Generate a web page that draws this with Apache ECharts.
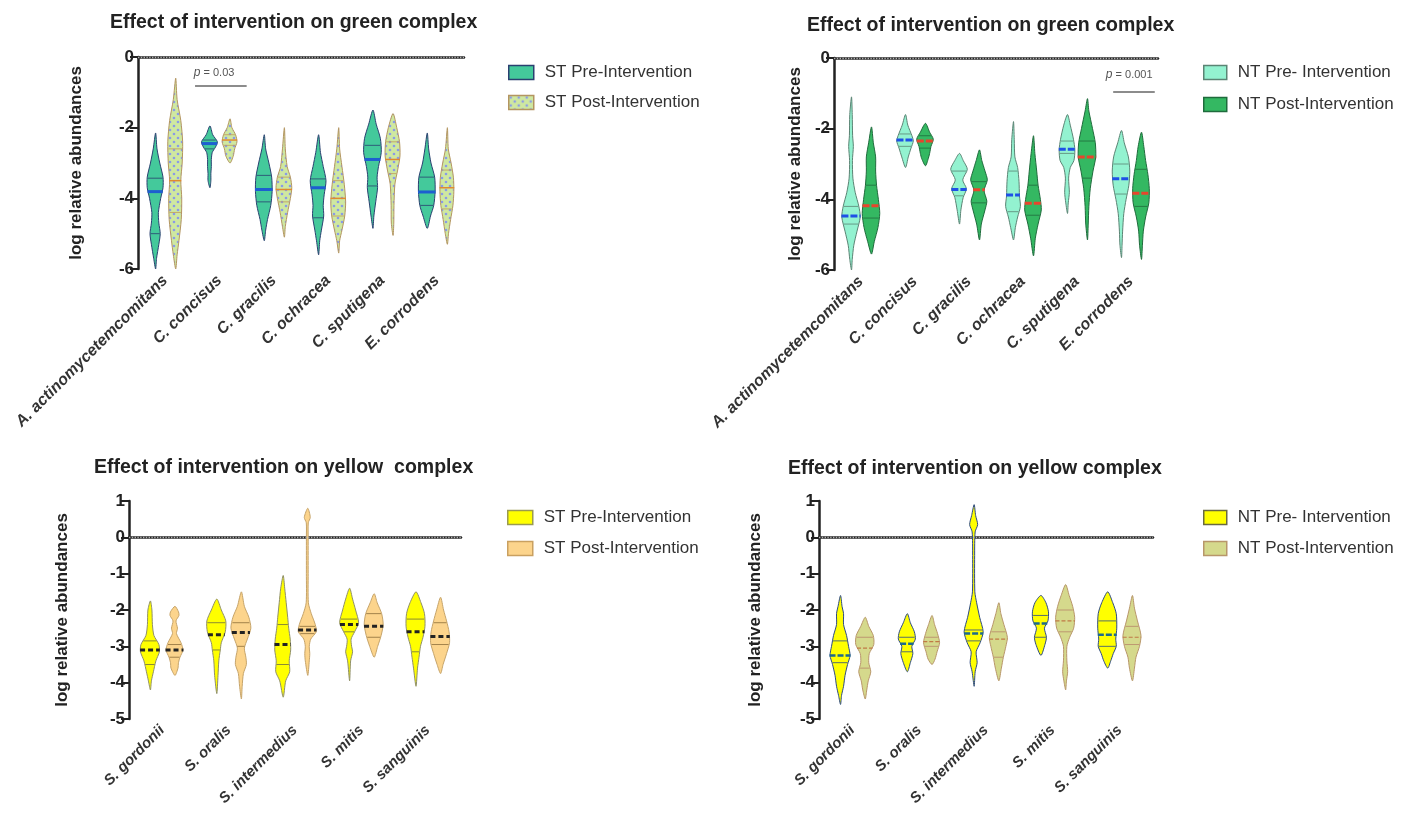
<!DOCTYPE html>
<html>
<head>
<meta charset="utf-8">
<script src="https://cdn.jsdelivr.net/npm/echarts@6/dist/echarts.min.js"></script>
<style>html,body{margin:0;padding:0;background:#fff}#c{width:1410px;height:826px}</style>
</head>
<body>
<div id="c"></div>
<script>
// ---------------- DATA ----------------
const greenCategories = ['A. actinomycetemcomitans','C. concisus','C. gracilis','C. ochracea','C. sputigena','E. corrodens'];
const yellowCategories = ['S. gordonii','S. oralis','S. intermedius','S. mitis','S. sanguinis'];

const greenTitle = 'Effect of intervention on green complex';
const yellowTitleST = 'Effect of intervention on yellow  complex';
const yellowTitleNT = 'Effect of intervention on yellow complex';
const yName = 'log relative abundances';

const stSeriesNames = ['ST Pre-Intervention','ST Post-Intervention'];
const ntSeriesNames = ['NT Pre- Intervention','NT Post-Intervention'];

// stats per violin: [median, q1, q3]
const stGreenPreStats  = [[-3.81,-5.0,-3.43],[-2.45,-2.6,-2.35],[-3.75,-4.1,-3.35],[-3.7,-4.55,-3.45],[-2.9,-3.65,-2.5],[-3.82,-4.2,-3.4]];
const stGreenPostStats = [[-3.5,-4.4,-2.6],[-2.35,-2.5,-2.2],[-3.75,-4.1,-3.4],[-4.0,-4.5,-3.5],[-2.9,-3.3,-2.4],[-3.7,-4.3,-3.2]];
const ntGreenPreStats  = [[-4.47,-4.7,-4.2],[-2.32,-2.5,-2.15],[-3.72,-3.9,-3.2],[-3.88,-4.35,-3.2],[-2.58,-2.7,-2.35],[-3.42,-3.85,-3.0]];
const ntGreenPostStats = [[-4.18,-4.53,-3.6],[-2.35,-2.55,-2.2],[-3.73,-4.1,-3.5],[-4.11,-4.45,-3.6],[-2.8,-3.4,-2.35],[-3.83,-4.2,-3.15]];
const stYellowPreStats  = [[-3.1,-3.5,-2.85],[-2.68,-3.1,-2.35],[-2.95,-3.5,-2.4],[-2.4,-2.6,-2.25],[-2.6,-3.15,-2.25]];
const stYellowPostStats = [[-3.1,-3.3,-2.95],[-2.62,-3.0,-2.35],[-2.55,-2.65,-2.45],[-2.45,-2.75,-2.1],[-2.73,-2.95,-2.35]];
const ntYellowPreStats  = [[-3.25,-3.45,-2.85],[-2.93,-3.15,-2.75],[-2.65,-2.85,-2.55],[-2.37,-2.75,-2.15],[-2.68,-3.0,-2.3]];
const ntYellowPostStats = [[-3.05,-3.6,-2.75],[-2.87,-3.0,-2.75],[-2.8,-3.3,-2.6],[-2.3,-2.6,-2.0],[-2.75,-2.95,-2.45]];

// density profiles per violin: [value, relative density]
const stGreenPreShape = [
 [[-2.15,0],[-2.6,0.15],[-3.0,0.45],[-3.4,0.8],[-3.7,0.8],[-4.0,0.55],[-4.4,0.3],[-4.7,0.35],[-5.0,0.5],[-5.3,0.35],[-5.7,0.1],[-6.0,0]],
 [[-1.95,0],[-2.2,0.3],[-2.4,0.8],[-2.55,0.6],[-2.7,0.25],[-2.9,0.15],[-3.1,0.15],[-3.3,0.1],[-3.5,0.1],[-3.7,0]],
 [[-2.2,0],[-2.6,0.15],[-3.0,0.5],[-3.4,0.8],[-3.8,0.85],[-4.2,0.7],[-4.6,0.35],[-4.9,0.15],[-5.2,0]],
 [[-2.2,0],[-2.7,0.2],[-3.1,0.5],[-3.5,0.8],[-3.9,0.6],[-4.2,0.5],[-4.5,0.55],[-4.9,0.3],[-5.2,0.12],[-5.6,0]],
 [[-1.5,0],[-1.9,0.35],[-2.3,0.8],[-2.7,0.9],[-3.1,0.6],[-3.4,0.45],[-3.7,0.5],[-4.1,0.3],[-4.5,0.1],[-4.85,0]],
 [[-2.15,0],[-2.6,0.15],[-3.0,0.4],[-3.4,0.8],[-3.8,0.85],[-4.2,0.7],[-4.5,0.35],[-4.85,0]]
];
const stGreenPostShape = [
 [[-0.6,0],[-1.2,0.15],[-1.8,0.55],[-2.4,0.75],[-3.0,0.7],[-3.5,0.55],[-4.0,0.65],[-4.6,0.6],[-5.2,0.35],[-5.6,0.15],[-6.0,0]],
 [[-1.75,0],[-2.0,0.2],[-2.2,0.6],[-2.4,0.75],[-2.6,0.5],[-2.8,0.35],[-3.0,0]],
 [[-2.0,0],[-2.6,0.1],[-3.1,0.3],[-3.4,0.65],[-3.7,0.8],[-4.0,0.65],[-4.4,0.35],[-4.8,0.1],[-5.1,0]],
 [[-2.0,0],[-2.6,0.1],[-3.1,0.35],[-3.6,0.6],[-4.1,0.75],[-4.5,0.65],[-4.9,0.35],[-5.2,0.1],[-5.55,0]],
 [[-1.6,0],[-2.0,0.4],[-2.4,0.7],[-2.8,0.75],[-3.2,0.5],[-3.6,0.2],[-4.2,0.1],[-4.7,0.08],[-5.05,0]],
 [[-2.0,0],[-2.6,0.1],[-3.0,0.4],[-3.4,0.65],[-3.8,0.7],[-4.2,0.6],[-4.6,0.35],[-5.0,0.12],[-5.3,0]]
];
const ntGreenPreShape = [
 [[-1.1,0],[-1.6,0.08],[-2.2,0.12],[-2.5,0.2],[-2.9,0.1],[-3.4,0.15],[-3.8,0.4],[-4.2,0.8],[-4.5,0.95],[-4.9,0.6],[-5.3,0.25],[-5.7,0.08],[-6.0,0]],
 [[-1.6,0],[-1.9,0.25],[-2.2,0.7],[-2.35,0.85],[-2.55,0.6],[-2.8,0.3],[-3.1,0]],
 [[-2.7,0],[-2.9,0.4],[-3.15,0.85],[-3.45,0.35],[-3.7,0.75],[-3.95,0.4],[-4.3,0.15],[-4.7,0]],
 [[-1.8,0],[-2.3,0.08],[-2.8,0.15],[-3.1,0.45],[-3.5,0.6],[-3.9,0.65],[-4.2,0.75],[-4.5,0.45],[-4.8,0.2],[-5.15,0]],
 [[-1.6,0],[-1.9,0.3],[-2.3,0.65],[-2.6,0.8],[-2.9,0.7],[-3.1,0.3],[-3.4,0.12],[-3.8,0.2],[-4.1,0.08],[-4.4,0]],
 [[-2.05,0],[-2.4,0.3],[-2.8,0.75],[-3.2,0.9],[-3.6,0.8],[-4.0,0.5],[-4.4,0.25],[-4.9,0.12],[-5.3,0.06],[-5.65,0]]
];
const ntGreenPostShape = [
 [[-1.95,0],[-2.4,0.2],[-2.8,0.45],[-3.2,0.45],[-3.6,0.55],[-4.0,0.75],[-4.4,0.9],[-4.8,0.7],[-5.2,0.3],[-5.55,0]],
 [[-1.85,0],[-2.1,0.45],[-2.3,0.85],[-2.5,0.6],[-2.7,0.45],[-2.85,0.3],[-3.05,0]],
 [[-2.6,0],[-2.9,0.25],[-3.2,0.6],[-3.45,0.85],[-3.75,0.5],[-4.05,0.8],[-4.3,0.6],[-4.7,0.2],[-5.15,0]],
 [[-2.2,0],[-2.7,0.15],[-3.2,0.35],[-3.6,0.5],[-4.0,0.75],[-4.3,0.85],[-4.7,0.5],[-5.1,0.2],[-5.6,0]],
 [[-1.15,0],[-1.5,0.15],[-2.0,0.55],[-2.4,0.85],[-2.8,0.9],[-3.2,0.6],[-3.7,0.3],[-4.2,0.15],[-4.7,0.08],[-5.15,0]],
 [[-2.1,0],[-2.5,0.25],[-2.9,0.45],[-3.3,0.7],[-3.7,0.85],[-4.1,0.8],[-4.5,0.45],[-4.9,0.2],[-5.3,0.1],[-5.7,0]]
];
const stYellowPreShape = [
 [[-1.75,0],[-2.0,0.15],[-2.4,0.2],[-2.7,0.35],[-2.95,0.85],[-3.15,0.9],[-3.4,0.55],[-3.7,0.3],[-3.95,0.1],[-4.2,0]],
 [[-1.7,0],[-2.0,0.45],[-2.3,0.9],[-2.6,0.85],[-2.9,0.45],[-3.1,0.35],[-3.4,0.2],[-3.8,0.12],[-4.3,0]],
 [[-1.05,0],[-1.4,0.15],[-1.8,0.3],[-2.2,0.45],[-2.5,0.55],[-2.8,0.7],[-3.1,0.75],[-3.4,0.6],[-3.7,0.65],[-3.95,0.25],[-4.4,0]],
 [[-1.4,0],[-1.7,0.3],[-2.0,0.6],[-2.35,0.9],[-2.6,0.5],[-2.8,0.15],[-3.0,0.2],[-3.15,0.3],[-3.4,0.1],[-3.95,0]],
 [[-1.5,0],[-1.8,0.5],[-2.1,0.85],[-2.45,0.9],[-2.75,0.7],[-3.0,0.45],[-3.3,0.3],[-3.6,0.15],[-4.1,0]]
];
const stYellowPostShape = [
 [[-1.9,0],[-2.05,0.35],[-2.15,0.4],[-2.3,0.1],[-2.5,0.25],[-2.65,0.15],[-2.9,0.6],[-3.1,0.8],[-3.3,0.5],[-3.45,0.35],[-3.6,0.3],[-3.8,0]],
 [[-1.5,0],[-1.9,0.3],[-2.2,0.75],[-2.5,0.95],[-2.8,0.6],[-3.05,0.3],[-3.3,0.45],[-3.5,0.5],[-3.75,0.2],[-4.1,0.08],[-4.45,0]],
 [[0.8,0],[0.55,0.25],[0.4,0.05],[0.0,0.04],[-1.0,0.04],[-1.8,0.06],[-2.1,0.35],[-2.4,0.75],[-2.6,0.85],[-2.8,0.3],[-3.0,0.15],[-3.2,0.2],[-3.4,0.15],[-3.8,0]],
 [[-1.55,0],[-1.8,0.3],[-2.1,0.75],[-2.4,0.9],[-2.7,0.7],[-3.0,0.35],[-3.3,0]],
 [[-1.65,0],[-2.0,0.3],[-2.3,0.6],[-2.6,0.85],[-2.9,0.9],[-3.2,0.6],[-3.5,0.25],[-3.75,0]]
];
const ntYellowPreShape = [
 [[-1.6,0],[-1.9,0.15],[-2.1,0.3],[-2.4,0.3],[-2.7,0.6],[-3.0,0.8],[-3.25,0.95],[-3.5,0.7],[-3.8,0.45],[-4.1,0.3],[-4.35,0.1],[-4.6,0]],
 [[-2.1,0],[-2.35,0.3],[-2.6,0.7],[-2.8,0.8],[-3.0,0.45],[-3.2,0.55],[-3.45,0.3],[-3.7,0]],
 [[0.9,0],[0.6,0.15],[0.35,0.35],[0.15,0.1],[-0.5,0.05],[-1.5,0.07],[-1.8,0.25],[-2.2,0.55],[-2.6,0.9],[-2.9,0.6],[-3.15,0.2],[-3.45,0.3],[-3.7,0.1],[-4.1,0]],
 [[-1.6,0],[-1.8,0.5],[-2.05,0.75],[-2.3,0.7],[-2.5,0.35],[-2.75,0.55],[-2.95,0.4],[-3.25,0]],
 [[-1.5,0],[-1.8,0.5],[-2.1,0.85],[-2.5,0.9],[-2.8,0.8],[-3.0,0.85],[-3.2,0.55],[-3.4,0.3],[-3.6,0]]
];
const ntYellowPostShape = [
 [[-2.2,0],[-2.45,0.35],[-2.7,0.8],[-2.95,0.85],[-3.2,0.4],[-3.45,0.35],[-3.7,0.55],[-3.95,0.3],[-4.2,0.15],[-4.45,0]],
 [[-2.15,0],[-2.4,0.25],[-2.65,0.55],[-2.9,0.75],[-3.15,0.5],[-3.35,0.3],[-3.5,0]],
 [[-1.8,0],[-2.1,0.2],[-2.4,0.5],[-2.75,0.85],[-3.0,0.7],[-3.3,0.45],[-3.6,0.25],[-3.95,0]],
 [[-1.3,0],[-1.6,0.35],[-1.9,0.7],[-2.2,0.9],[-2.5,0.8],[-2.75,0.4],[-3.0,0.12],[-3.4,0.12],[-3.7,0.2],[-3.95,0.08],[-4.2,0]],
 [[-1.6,0],[-1.95,0.2],[-2.3,0.5],[-2.7,0.85],[-3.0,0.7],[-3.3,0.35],[-3.6,0.2],[-3.95,0]]
];

// significance annotations: [p value text, category index, bar value]
const stGreenPValue = ['0.03', 1, -0.82];
const ntGreenPValue = ['0.001', 5, -0.96];

// ---------------- RENDERING ----------------
const FONT = '"Liberation Sans", Arial, Helvetica, sans-serif';
const OFFSET = 0.185;

function dotPattern(bg, dot) {
  const c = document.createElement('canvas');
  c.width = 8; c.height = 8;
  const g = c.getContext('2d');
  g.fillStyle = bg; g.fillRect(0, 0, 8, 8);
  g.fillStyle = dot;
  [[2,2],[6,6]].forEach(([x,y]) => { g.beginPath(); g.arc(x, y, 1.3, 0, Math.PI*2); g.fill(); });
  return {image: c, repeat: 'repeat'};
}

function interpW(shape, v) {
  for (let j = 0; j < shape.length - 1; j++) {
    const [v1, w1] = shape[j], [v2, w2] = shape[j+1];
    if (v <= v1 && v >= v2) { const t = (v1 - v) / ((v1 - v2) || 1); return w1 + (w2 - w1) * t; }
  }
  return 0;
}

function violin(name, gi, stats, shapes, side, sty, extra) {
  const s = {
    type: 'custom', name: name, xAxisIndex: gi, yAxisIndex: gi,
    itemStyle: {color: sty.fill, borderColor: sty.edge, borderWidth: 1},
    data: stats.map((st, i) => [i, st[0], st[1], st[2]]),
    encode: {x: 0, y: 1},
    renderItem: function (params, api) {
      const shape = shapes[params.dataIndex];
      const cat = api.value(0);
      const band = api.size([1, 0])[0];
      const cx = api.coord([cat, 0])[0] + side * OFFSET * band;
      const k = sty.scale * band;
      const Y = v => api.coord([cat, v])[1];
      const pts = [];
      shape.forEach(([v, w]) => pts.push([cx + w * k + 0.5, Y(v)]));
      for (let j = shape.length - 1; j >= 0; j--) {
        if (shape[j][1] === 0) continue;
        pts.push([cx - shape[j][1] * k - 0.5, Y(shape[j][0])]);
      }
      const children = [{type: 'polygon', shape: {points: pts, smooth: 0.25},
        style: {fill: sty.fill, stroke: sty.edge, lineWidth: 1}}];
      [api.value(2), api.value(3)].forEach(q => {
        const w = interpW(shape, q) * k;
        children.push({type: 'line', shape: {x1: cx - w, y1: Y(q), x2: cx + w, y2: Y(q)},
          style: {stroke: sty.qColor, lineWidth: 0.8}});
      });
      const med = api.value(1);
      const mw = Math.max(interpW(shape, med), 0.5) * k + 1;
      children.push({type: 'line', shape: {x1: cx - mw, y1: Y(med), x2: cx + mw, y2: Y(med)},
        style: {stroke: sty.medColor, lineWidth: sty.medWidth, lineDash: sty.medDash || null}});
      return {type: 'group', children: children};
    }
  };
  if (extra) Object.assign(s, extra);
  return s;
}

function zeroLine() {
  return {markLine: {silent: true, symbol: 'none', label: {show: false},
    lineStyle: {type: 'dotted', color: '#b0b0b0', width: 1.4}, data: [{yAxis: 0}]}};
}

function pAnnot(gi, ann, x0, x1, textAlign, textDx, textDv) {
  return {
    type: 'custom', xAxisIndex: gi, yAxisIndex: gi, silent: true,
    data: [[ann[1], ann[2]]],
    renderItem: function (params, api) {
      const band = api.size([1, 0])[0];
      const p = api.coord([api.value(0), api.value(1)]);
      const pt = api.coord([api.value(0), api.value(1) + textDv]);
      return {type: 'group', children: [
        {type: 'line', shape: {x1: p[0] + x0 * band, y1: p[1], x2: p[0] + x1 * band, y2: p[1]},
          style: {stroke: '#666', lineWidth: 1.5}},
        {type: 'text', x: p[0] + textDx * band, y: pt[1],
          style: {text: '{i|p} = ' + ann[0], fill: '#555', font: '11px ' + FONT, textAlign: textAlign, textVerticalAlign: 'middle',
            rich: {i: {fontStyle: 'italic', fontSize: 12, fill: '#555', fontFamily: FONT}}}}
      ]};
    }
  };
}

const stPostPattern = dotPattern('#cfe8a0', '#8a9be6');

const styles = {
  stGreenPre:  {fill: '#44c99b', edge: '#2a4070', qColor: '#2a4070', medColor: '#1d5fd0', medWidth: 3, scale: 0.17},
  stGreenPost: {fill: stPostPattern, edge: '#b49560', qColor: '#c09a5a', medColor: '#e08a30', medWidth: 1.5, scale: 0.17},
  ntGreenPre:  {fill: '#93f2d0', edge: '#5b8474', qColor: '#5b8474', medColor: '#1e50e6', medWidth: 3, medDash: [7, 2], scale: 0.17},
  ntGreenPost: {fill: '#34b862', edge: '#1f6b3c', qColor: '#1f6b3c', medColor: '#e8452c', medWidth: 3, medDash: [7, 2], scale: 0.17},
  stYellowPre: {fill: '#ffff00', edge: '#8f8f6a', qColor: '#6d6d40', medColor: '#222', medWidth: 3, medDash: [5, 3], scale: 0.15},
  stYellowPost:{fill: '#fcd48c', edge: '#c6a46a', qColor: '#8c6d3a', medColor: '#222', medWidth: 3, medDash: [5, 3], scale: 0.15},
  ntYellowPre: {fill: '#ffff00', edge: '#2d4a85', qColor: '#2d4a85', medColor: '#1e6a8a', medWidth: 2.5, medDash: [6, 2], scale: 0.15},
  ntYellowPost:{fill: '#d5d98c', edge: '#b8966a', qColor: '#b8866a', medColor: '#c07a45', medWidth: 1.2, medDash: [4, 2], scale: 0.15}
};

const grids = [
  {left: 138, top: 57, width: 326, height: 212},
  {left: 834, top: 58, width: 324, height: 212},
  {left: 129, top: 501, width: 332, height: 218},
  {left: 819, top: 501, width: 334, height: 218}
];

function xAxis(gi, cats, fs) {
  return {type: 'category', gridIndex: gi, data: cats, boundaryGap: true,
    axisLine: {lineStyle: {color: '#222', width: 2.5}},
    axisTick: {alignWithLabel: true, length: 7, lineStyle: {color: '#222', width: 2}},
    axisLabel: {rotate: 45, interval: 0, margin: 9, fontSize: fs, fontStyle: 'italic', fontWeight: 'bold', color: '#333', fontFamily: FONT},
    splitLine: {show: false}};
}
function yAxis(gi, min, max, interval, gap) {
  return {type: 'value', gridIndex: gi, min: min, max: max, interval: interval,
    name: yName, nameLocation: 'middle', nameGap: gap,
    nameTextStyle: {fontSize: 17, fontWeight: 'bold', color: '#222', fontFamily: FONT},
    axisLine: {show: true, lineStyle: {color: '#222', width: 2.5}},
    axisTick: {show: true, length: 8, lineStyle: {color: '#222', width: 2}},
    axisLabel: {fontSize: 17, fontWeight: 'bold', color: '#222', margin: 4, fontFamily: FONT},
    splitLine: {show: false}};
}

function legend(names, left, top, gap, iw, ih, borders) {
  return {orient: 'vertical', left: left, top: top, itemGap: gap, itemWidth: iw, itemHeight: ih, padding: 0,
    icon: 'rect', selectedMode: false,
    formatter: n => n.trim(),
    textStyle: {fontSize: 17, lineHeight: 16, color: '#333', fontFamily: FONT, padding: [0, 0, 0, 6]},
    data: names.map((n, i) => ({name: n, itemStyle: {borderColor: borders[i], borderWidth: 1.5}}))};
}

function title(text, left, top, fs) {
  return {text: text, left: left, top: top, padding: 0,
    textStyle: {fontSize: fs, fontWeight: 'bold', color: '#222', fontFamily: FONT}};
}

// series names: bottom panels get a trailing space to stay distinct (trimmed in legend)
const option = {
  backgroundColor: '#fff',
  animation: false,
  title: [title(greenTitle, 110, 13, 19.5), title(greenTitle, 807, 16, 19.5), title(yellowTitleST, 94, 458, 19.5), title(yellowTitleNT, 788, 459, 19.5)],
  legend: [
    legend(stSeriesNames, 508, 64, 13, 25, 14, ['#2a4070', '#b49560']),
    legend(ntSeriesNames, 1203, 64, 15, 23, 14, ['#5b8474', '#1f6b3c']),
    legend(stSeriesNames.map(n => n + ' '), 507, 509, 14, 25, 14, ['#9a9a50', '#c9a060']),
    legend(ntSeriesNames.map(n => n + ' '), 1203, 509, 14, 23, 14, ['#6a6a40', '#b8966a'])
  ],
  grid: grids,
  xAxis: [xAxis(0, greenCategories, 16), xAxis(1, greenCategories, 16), xAxis(2, yellowCategories, 15), xAxis(3, yellowCategories, 15)],
  yAxis: [yAxis(0, -6, 0, 2, 53), yAxis(1, -6, 0, 2, 30), yAxis(2, -5, 1, 1, 58), yAxis(3, -5, 1, 1, 55)],
  series: [
    violin(stSeriesNames[0], 0, stGreenPreStats, stGreenPreShape, -1, styles.stGreenPre, zeroLine()),
    violin(stSeriesNames[1], 0, stGreenPostStats, stGreenPostShape, 1, styles.stGreenPost),
    violin(ntSeriesNames[0], 1, ntGreenPreStats, ntGreenPreShape, -1, styles.ntGreenPre, zeroLine()),
    violin(ntSeriesNames[1], 1, ntGreenPostStats, ntGreenPostShape, 1, styles.ntGreenPost),
    violin(stSeriesNames[0] + ' ', 2, stYellowPreStats, stYellowPreShape, -1, styles.stYellowPre, zeroLine()),
    violin(stSeriesNames[1] + ' ', 2, stYellowPostStats, stYellowPostShape, 1, styles.stYellowPost),
    violin(ntSeriesNames[0] + ' ', 3, ntYellowPreStats, ntYellowPreShape, -1, styles.ntYellowPre, zeroLine()),
    violin(ntSeriesNames[1] + ' ', 3, ntYellowPostStats, ntYellowPostShape, 1, styles.ntYellowPost),
    pAnnot(0, stGreenPValue, -0.45, 0.5, 'center', -0.1, 0.37),
    pAnnot(1, ntGreenPValue, -0.33, 0.44, 'right', 0.4, 0.48)
  ]
};

const chart = echarts.init(document.getElementById('c'), null, {renderer: 'canvas'});
chart.setOption(option);
</script>
</body>
</html>
